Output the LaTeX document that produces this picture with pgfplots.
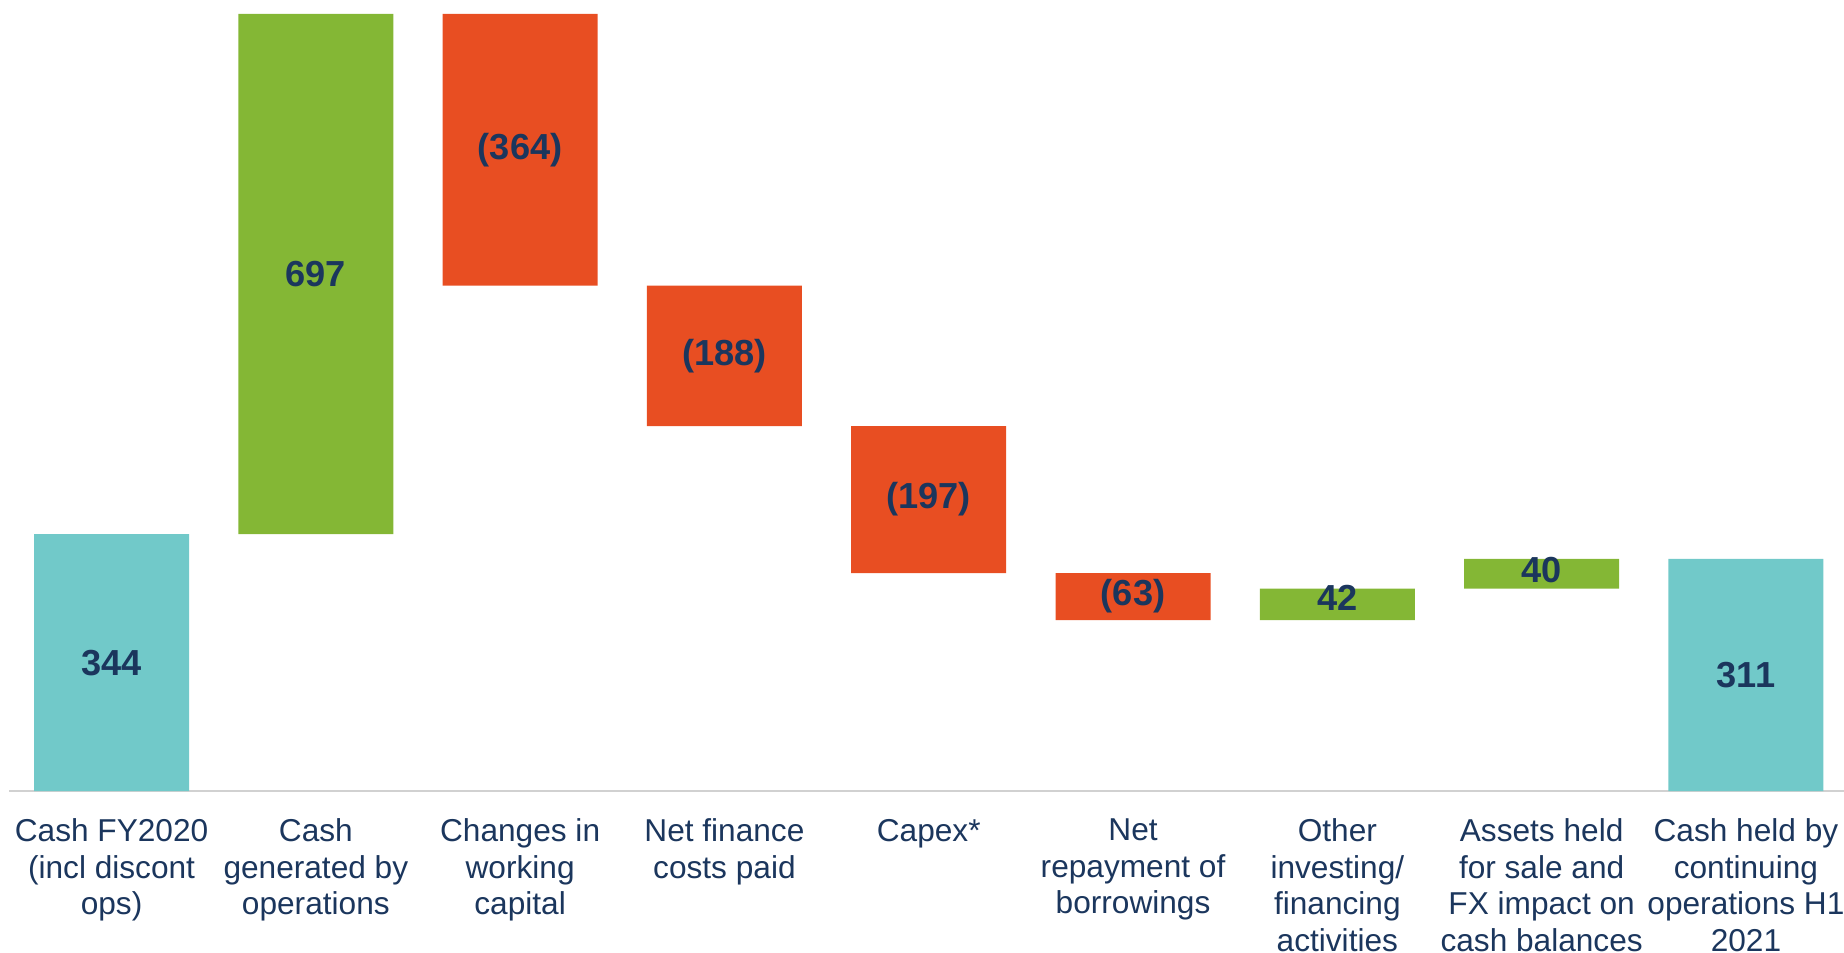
\documentclass[border=0pt]{standalone}
\usepackage{pgfplots}
\pgfplotsset{compat=1.18}
\usepackage{fontspec}
\setmainfont{Liberation Sans}
\definecolor{cashcol}{HTML}{71C9C9}
\definecolor{upcol}{HTML}{84B735}
\definecolor{downcol}{HTML}{E84E22}
\definecolor{navy}{HTML}{1B365D}

% waterfall: invisible base + visible step
\pgfplotstableread{
x base cash up down
0 0   344 0   0
1 344 0   697 0
2 677 0   0   364
3 489 0   0   188
4 292 0   0   197
5 229 0   0   63
6 229 0   42  0
7 271 0   40  0
8 0   311 0   0
}\steps

\pgfplotstableread{
x y lab
0 172   344
1 692.5 697
2 859   (364)
3 583   (188)
4 390.5 (197)
5 260.5 (63)
6 259   42
7 296   40
8 155.5 311
}\labels

\pgfplotsset{wf/.style={
  scale only axis, width=18.346cm, height=7.912cm,
  xmin=-0.5, xmax=8.48, ymin=0, ymax=1060,
}}

\begin{document}
\begin{tikzpicture}
\begin{axis}[wf,
  ybar stacked, bar width=1.55cm,
  axis x line=bottom, axis y line=none,
  x axis line style={-, draw=black!18, line width=0.6pt},
  ytick=\empty, xtick=data, xtick style={draw=none},
  xticklabels={
    {Cash FY2020\\(incl discont\\ops)},
    {Cash\\generated by\\operations},
    {Changes in\\working\\capital},
    {Net finance\\costs paid},
    {Capex*},
    {Net\\repayment of\\borrowings},
    {Other\\investing/\\financing\\activities},
    {Assets held\\for sale and\\FX impact on\\cash balances},
    {Cash held by\\continuing\\operations H1\\2021}},
  xticklabel style={align=center, text=navy, yshift=-0.08cm,
    font=\fontsize{9}{10.4}\selectfont},
]
\addplot[draw=none, fill=none] table[x=x, y=base] {\steps};
\addplot[draw=none, fill=cashcol] table[x=x, y=cash] {\steps};
\addplot[draw=none, fill=upcol] table[x=x, y=up] {\steps};
\addplot[draw=none, fill=downcol] table[x=x, y=down] {\steps};
\end{axis}
\begin{axis}[wf, hide axis]
\addplot[only marks, mark=none, nodes near coords,
  point meta=explicit symbolic,
  nodes near coords align=center,
  every node near coord/.append style={text=navy, anchor=center,
    font=\fontsize{10.3}{12}\selectfont\bfseries}]
  table[x=x, y=y, meta=lab] {\labels};
\end{axis}
\pgfresetboundingbox
\useasboundingbox (-0.094,-1.61) rectangle (18.346,7.91);
\end{tikzpicture}
\end{document}
